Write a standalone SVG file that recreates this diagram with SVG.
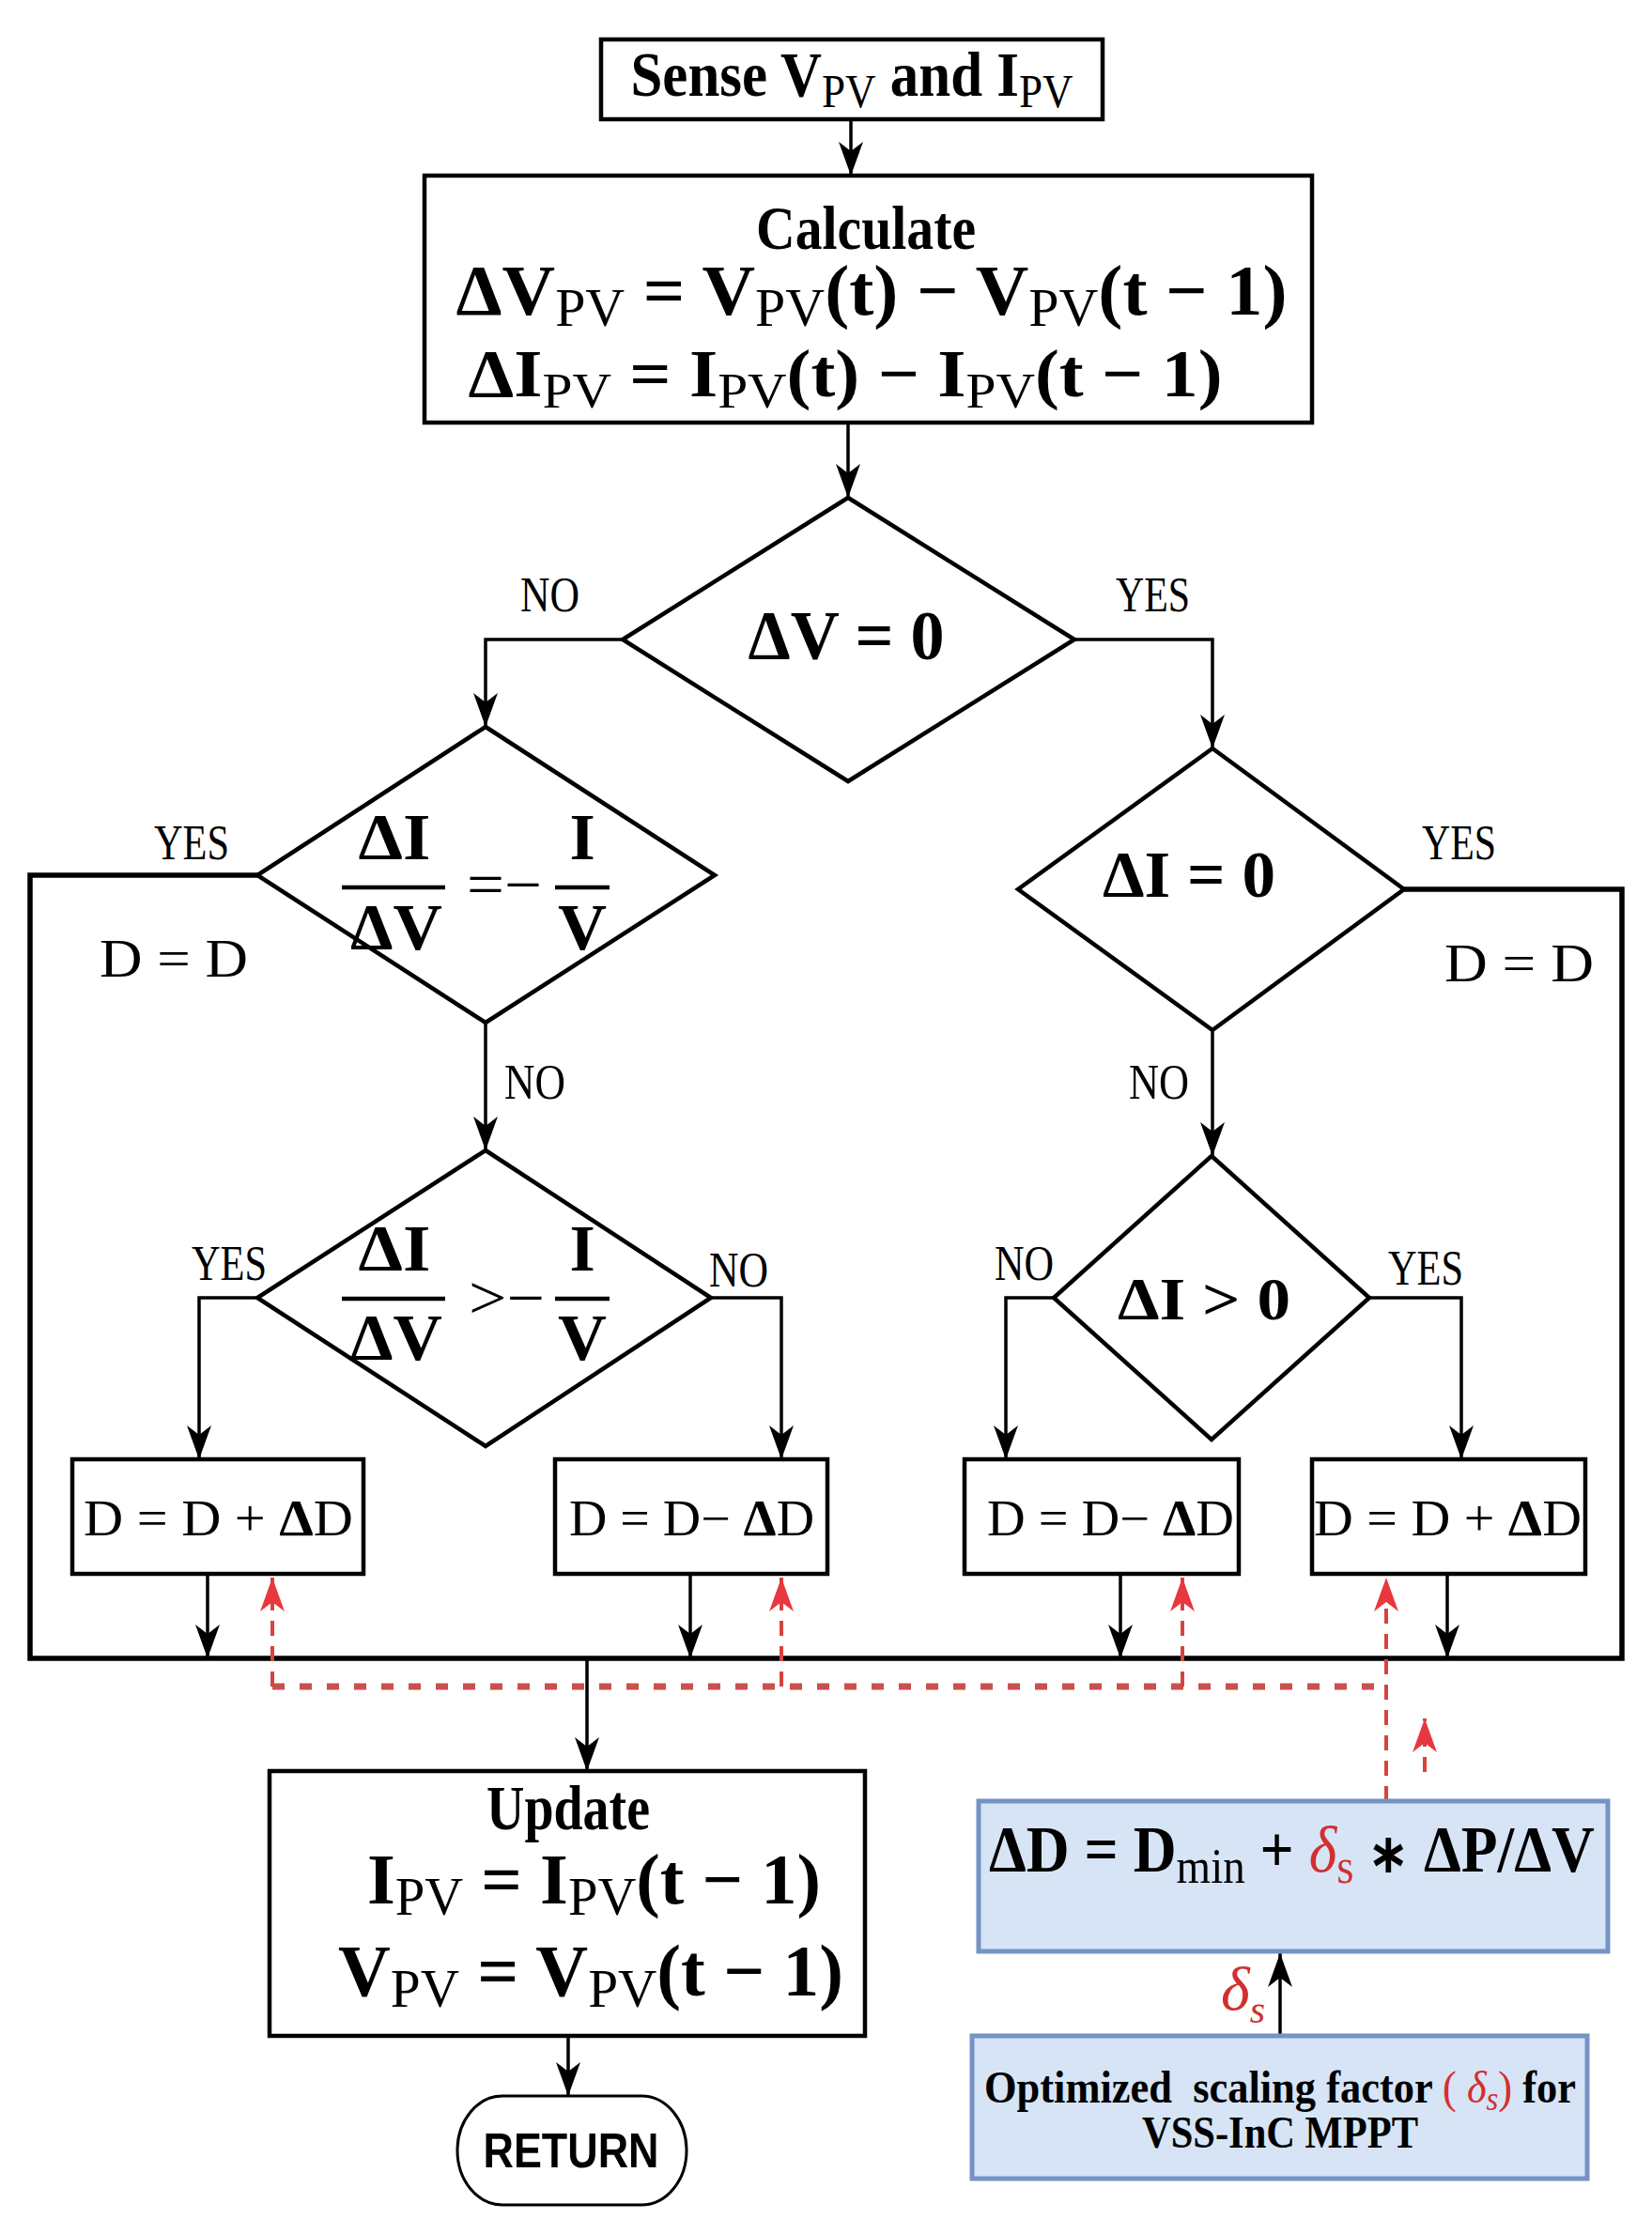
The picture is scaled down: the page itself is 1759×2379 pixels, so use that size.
<svg xmlns="http://www.w3.org/2000/svg" width="1759" height="2379" viewBox="0 0 1759 2379">
<style>
.t{font-family:"Liberation Serif","Times New Roman",serif;fill:#000}
.b{font-weight:bold}
.n{font-weight:normal}
.sub{font-weight:normal;font-size:0.74em}
.lbl{font-family:"Liberation Serif","Times New Roman",serif;font-size:52px;fill:#000}
.box{fill:#fff;stroke:#000;stroke-width:4.5}
.dia{fill:#fff;stroke:#000;stroke-width:4.5;stroke-linejoin:miter}
.blue{fill:#d6e4f6;stroke:#7394c4;stroke-width:5}
.c{fill:none;stroke:#000;stroke-width:3.5}
.bus{fill:none;stroke:#000;stroke-width:5.5}
.rv{fill:none;stroke:#d8423f;stroke-width:4;stroke-dasharray:16 11}
.rh{fill:none;stroke:#c9504d;stroke-width:7;stroke-dasharray:13 16}
.rt{fill:#d32f2f}
.fb{stroke:#000;stroke-width:4.5}
</style>
<defs>
<marker id="ah" markerUnits="userSpaceOnUse" markerWidth="40" markerHeight="30" refX="36" refY="13" orient="auto">
<path d="M0,0 L36,13 L0,26 L10,13 Z" fill="#000"/>
</marker>
<marker id="rah" markerUnits="userSpaceOnUse" markerWidth="40" markerHeight="30" refX="36" refY="13" orient="auto">
<path d="M0,0 L36,13 L0,26 L10,13 Z" fill="#e8383d"/>
</marker>
</defs>

<g id="connectors">
<line class="c" x1="906" y1="127" x2="906" y2="187" marker-end="url(#ah)"/>
<line class="c" x1="903" y1="450" x2="903" y2="530" marker-end="url(#ah)"/>
<polyline class="c" points="663,681 517,681 517,774" marker-end="url(#ah)"/>
<polyline class="c" points="1144,681 1291,681 1291,797" marker-end="url(#ah)"/>
<polyline class="bus" points="274,932 32,932 32,1766 1727,1766 1727,947 1495,947"/>
<line class="c" x1="517" y1="1089" x2="517" y2="1225" marker-end="url(#ah)"/>
<line class="c" x1="1291" y1="1097" x2="1291" y2="1231" marker-end="url(#ah)"/>
<polyline class="c" points="274,1382 212,1382 212,1554" marker-end="url(#ah)"/>
<polyline class="c" points="757,1382 832,1382 832,1554" marker-end="url(#ah)"/>
<polyline class="c" points="1122,1382 1071,1382 1071,1554" marker-end="url(#ah)"/>
<polyline class="c" points="1458,1382 1556,1382 1556,1554" marker-end="url(#ah)"/>
<line class="c" x1="221" y1="1676" x2="221" y2="1766" marker-end="url(#ah)"/>
<line class="c" x1="735" y1="1676" x2="735" y2="1766" marker-end="url(#ah)"/>
<line class="c" x1="1193" y1="1676" x2="1193" y2="1766" marker-end="url(#ah)"/>
<line class="c" x1="1541" y1="1676" x2="1541" y2="1766" marker-end="url(#ah)"/>
<line class="c" x1="625" y1="1766" x2="625" y2="1886" marker-end="url(#ah)"/>
<line class="c" x1="605" y1="2168" x2="605" y2="2232" marker-end="url(#ah)"/>
<line class="c" x1="1363" y1="2168" x2="1363" y2="2080" marker-end="url(#ah)"/>
<line class="rh" x1="290" y1="1796" x2="1476" y2="1796"/>
<line class="rv" x1="290" y1="1796" x2="290" y2="1680" marker-end="url(#rah)"/>
<line class="rv" x1="832" y1="1796" x2="832" y2="1680" marker-end="url(#rah)"/>
<line class="rv" x1="1259" y1="1796" x2="1259" y2="1680" marker-end="url(#rah)"/>
<line class="rv" x1="1476" y1="1918" x2="1476" y2="1680" marker-end="url(#rah)"/>
<line class="rv" x1="1517" y1="1887" x2="1517" y2="1830" marker-end="url(#rah)"/>
</g>

<g id="sense">
<rect class="box" x="640" y="42" width="534" height="85"/>
<text class="t b" x="907" y="102" font-size="68" text-anchor="middle" textLength="471" lengthAdjust="spacingAndGlyphs">Sense V<tspan class="sub" dy="12">PV</tspan><tspan dy="-12"> and I</tspan><tspan class="sub" dy="12">PV</tspan></text>
</g>

<g id="calculate">
<rect class="box" x="452" y="187" width="945" height="263"/>
<text class="t b" x="922" y="265" font-size="66" text-anchor="middle" textLength="234" lengthAdjust="spacingAndGlyphs">Calculate</text>
<text class="t b" x="928" y="335" font-size="76" text-anchor="middle" textLength="885" lengthAdjust="spacingAndGlyphs">ΔV<tspan class="sub" dy="12">PV</tspan><tspan dy="-12"> = V</tspan><tspan class="sub" dy="12">PV</tspan><tspan dy="-12">(t) − V</tspan><tspan class="sub" dy="12">PV</tspan><tspan dy="-12">(t − 1)</tspan></text>
<text class="t b" x="900" y="422" font-size="72" text-anchor="middle" textLength="803" lengthAdjust="spacingAndGlyphs">ΔI<tspan class="sub" dy="12">PV</tspan><tspan dy="-12"> = I</tspan><tspan class="sub" dy="12">PV</tspan><tspan dy="-12">(t) − I</tspan><tspan class="sub" dy="12">PV</tspan><tspan dy="-12">(t − 1)</tspan></text>
</g>

<g id="dv0">
<polygon class="dia" points="903,530 1144,681 903,832 663,681"/>
<text class="t b" x="901" y="702" font-size="74" text-anchor="middle" textLength="209" lengthAdjust="spacingAndGlyphs">ΔV = 0</text>
<text class="lbl" x="554" y="651" textLength="63" lengthAdjust="spacingAndGlyphs">NO</text>
<text class="lbl" x="1188" y="651" textLength="79" lengthAdjust="spacingAndGlyphs">YES</text>
</g>

<g id="frac-eq">
<polygon class="dia" points="517,774 761,932 517,1089 274,932"/>
<text class="t b" x="420" y="915" font-size="70" text-anchor="middle" textLength="77" lengthAdjust="spacingAndGlyphs">ΔI</text>
<line class="fb" x1="364" y1="945" x2="474" y2="945"/>
<text class="t b" x="422" y="1011" font-size="70" text-anchor="middle" textLength="98" lengthAdjust="spacingAndGlyphs">ΔV</text>
<text class="t" x="497" y="964" font-size="66" textLength="80" lengthAdjust="spacingAndGlyphs">=−</text>
<text class="t b" x="620" y="915" font-size="70" text-anchor="middle">I</text>
<line class="fb" x1="591" y1="945" x2="649" y2="945"/>
<text class="t b" x="620" y="1011" font-size="70" text-anchor="middle" textLength="52" lengthAdjust="spacingAndGlyphs">V</text>
<text class="lbl" x="164" y="915" textLength="80" lengthAdjust="spacingAndGlyphs">YES</text>
<text class="t" x="106" y="1040" font-size="56" textLength="158" lengthAdjust="spacingAndGlyphs">D = D</text>
<text class="lbl" x="537" y="1170" textLength="65" lengthAdjust="spacingAndGlyphs">NO</text>
</g>

<g id="di0">
<polygon class="dia" points="1291,797 1495,947 1291,1097 1084,947"/>
<text class="t b" x="1174" y="955" font-size="70" textLength="184" lengthAdjust="spacingAndGlyphs">ΔI = 0</text>
<text class="lbl" x="1514" y="915" textLength="79" lengthAdjust="spacingAndGlyphs">YES</text>
<text class="t" x="1538" y="1045" font-size="56" textLength="159" lengthAdjust="spacingAndGlyphs">D = D</text>
<text class="lbl" x="1202" y="1170" textLength="64" lengthAdjust="spacingAndGlyphs">NO</text>
</g>

<g id="frac-gt">
<polygon class="dia" points="517,1225 757,1382 517,1540 274,1382"/>
<text class="t b" x="420" y="1353" font-size="70" text-anchor="middle" textLength="77" lengthAdjust="spacingAndGlyphs">ΔI</text>
<line class="fb" x1="364" y1="1383" x2="474" y2="1383"/>
<text class="t b" x="422" y="1448" font-size="70" text-anchor="middle" textLength="98" lengthAdjust="spacingAndGlyphs">ΔV</text>
<text class="t" x="499" y="1404" font-size="66" textLength="81" lengthAdjust="spacingAndGlyphs">&gt;−</text>
<text class="t b" x="620" y="1353" font-size="70" text-anchor="middle">I</text>
<line class="fb" x1="591" y1="1383" x2="649" y2="1383"/>
<text class="t b" x="620" y="1448" font-size="70" text-anchor="middle" textLength="52" lengthAdjust="spacingAndGlyphs">V</text>
<text class="lbl" x="204" y="1363" textLength="80" lengthAdjust="spacingAndGlyphs">YES</text>
<text class="lbl" x="755" y="1370" textLength="63" lengthAdjust="spacingAndGlyphs">NO</text>
</g>

<g id="di-gt0">
<polygon class="dia" points="1290,1231 1458,1382 1290,1533 1122,1382"/>
<text class="t b" x="1190" y="1405" font-size="64" textLength="184" lengthAdjust="spacingAndGlyphs">ΔI &gt; 0</text>
<text class="lbl" x="1059" y="1363" textLength="63" lengthAdjust="spacingAndGlyphs">NO</text>
<text class="lbl" x="1478" y="1368" textLength="80" lengthAdjust="spacingAndGlyphs">YES</text>
</g>

<g id="boxA">
<rect class="box" x="77" y="1554" width="310" height="122"/>
<text class="t" x="89" y="1635" font-size="54" textLength="287" lengthAdjust="spacingAndGlyphs">D = D + <tspan class="b">Δ</tspan>D</text>
</g>
<g id="boxB">
<rect class="box" x="591" y="1554" width="290" height="122"/>
<text class="t" x="606" y="1635" font-size="54" textLength="261" lengthAdjust="spacingAndGlyphs">D = D− <tspan class="b">Δ</tspan>D</text>
</g>
<g id="boxC">
<rect class="box" x="1027" y="1554" width="292" height="122"/>
<text class="t" x="1051" y="1635" font-size="54" textLength="263" lengthAdjust="spacingAndGlyphs">D = D− <tspan class="b">Δ</tspan>D</text>
</g>
<g id="boxD">
<rect class="box" x="1397" y="1554" width="291" height="122"/>
<text class="t" x="1399" y="1635" font-size="54" textLength="285" lengthAdjust="spacingAndGlyphs">D = D + <tspan class="b">Δ</tspan>D</text>
</g>

<g id="update">
<rect class="box" x="287" y="1886" width="634" height="282"/>
<text class="t b" x="605" y="1948" font-size="68" text-anchor="middle" textLength="174" lengthAdjust="spacingAndGlyphs">Update</text>
<text class="t b" x="391" y="2027" font-size="76" textLength="483" lengthAdjust="spacingAndGlyphs">I<tspan class="sub" dy="12">PV</tspan><tspan dy="-12"> = I</tspan><tspan class="sub" dy="12">PV</tspan><tspan dy="-12">(t − 1)</tspan></text>
<text class="t b" x="360" y="2125" font-size="78" textLength="538" lengthAdjust="spacingAndGlyphs">V<tspan class="sub" dy="12">PV</tspan><tspan dy="-12"> = V</tspan><tspan class="sub" dy="12">PV</tspan><tspan dy="-12">(t − 1)</tspan></text>
</g>

<g id="return">
<rect x="487" y="2232" width="244" height="116" rx="48" ry="58" fill="#fff" stroke="#000" stroke-width="3"/>
<text x="608" y="2308" font-family="Liberation Sans, Arial, sans-serif" font-weight="bold" font-size="52" text-anchor="middle" textLength="187" lengthAdjust="spacingAndGlyphs">RETURN</text>
</g>

<g id="deltaD">
<rect class="blue" x="1042" y="1918" width="670" height="160"/>
<text class="t b" x="1053" y="1993" font-size="70" textLength="645" lengthAdjust="spacingAndGlyphs">ΔD = D<tspan class="sub" dy="12">min</tspan><tspan dy="-12"> + </tspan><tspan class="n rt" font-style="italic">δ</tspan><tspan class="sub rt" dy="12">s</tspan><tspan dy="-12"> </tspan><tspan font-size="0.8em">∗</tspan><tspan> ΔP/ΔV</tspan></text>
</g>

<g id="scaling">
<rect class="blue" x="1035" y="2168" width="655" height="152"/>
<text class="t b" x="1048" y="2239" font-size="48" textLength="630" lengthAdjust="spacingAndGlyphs" xml:space="preserve">Optimized  scaling factor <tspan class="n rt">( </tspan><tspan class="n rt" font-style="italic">δ</tspan><tspan class="sub rt" font-style="italic" dy="8">s</tspan><tspan class="n rt" dy="-8">)</tspan> for</text>
<text class="t b" x="1216" y="2287" font-size="48" textLength="294" lengthAdjust="spacingAndGlyphs">VSS-InC MPPT</text>
</g>

<g id="delta-s-label">
<text x="1300" y="2140" font-family="Liberation Serif, Times New Roman, serif" font-size="66" font-style="italic" style="fill:#d32f2f">δ<tspan font-size="42" dy="14">s</tspan></text>
</g>
</svg>
